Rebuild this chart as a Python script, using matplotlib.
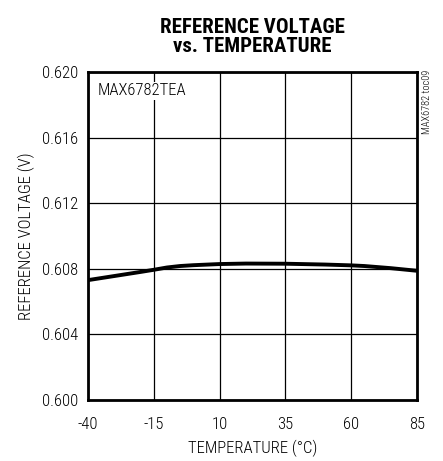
import matplotlib
matplotlib.use("Agg")
import matplotlib.pyplot as plt
from matplotlib import font_manager

temps = [-40, -30, -20, -15, -10, -5, 0, 10, 20, 35, 50, 60, 65, 75, 85]
vref = [0.60731, 0.60756, 0.60781, 0.60794, 0.60808, 0.60817, 0.60822, 0.60829,
        0.60832, 0.60831, 0.60826, 0.60821, 0.60817, 0.60804, 0.60788]
xticks = [-40, -15, 10, 35, 60, 85]
yticks = [0.600, 0.604, 0.608, 0.612, 0.616, 0.620]

names = {f.name for f in font_manager.fontManager.ttflist}
def pick(cands):
    for c in cands:
        if c in names:
            return c
    return 'DejaVu Sans'

body = pick(['Nimbus Sans Narrow', 'Liberation Sans Narrow', 'Arial Narrow', 'Roboto Condensed',
             'Archivo Narrow', 'Barlow Semi Condensed', 'Asap Condensed'])
head = pick(['Nimbus Sans Narrow', 'Roboto Condensed', 'Archivo Narrow', 'Barlow Condensed',
             'Asap Condensed', 'Liberation Sans Narrow'])
plt.rcParams['font.family'] = [body, 'DejaVu Sans']
plt.rcParams['font.weight'] = 'light'
plt.rcParams['axes.labelweight'] = 'light'

fig = plt.figure(figsize=(4.43, 4.61), dpi=100)
ax = fig.add_axes([0.1986, 0.1323, 0.7427, 0.7115])
ax.plot(temps, vref, color='black', lw=2.8, solid_capstyle='butt', zorder=3)
ax.set_xlim(-40, 85)
ax.set_ylim(0.600, 0.620)
ax.set_xticks(xticks)
ax.set_xticklabels([str(t) for t in xticks])
ax.set_yticks(yticks)
ax.set_yticklabels([f"{v:.3f}" for v in yticks])
ax.grid(True, color='black', lw=0.9)
ax.tick_params(length=0, labelsize=12)
ax.tick_params(axis='x', pad=12)
ax.tick_params(axis='y', pad=7)
for s in ax.spines.values():
    s.set_linewidth(2.0)
ax.set_xlabel('TEMPERATURE (°C)', fontsize=12, labelpad=6, fontweight='light')
ax.set_ylabel('REFERENCE VOLTAGE (V)', fontsize=12, labelpad=5, fontweight='light')
fig.text(0.5695, 0.962, 'REFERENCE VOLTAGE\nvs. TEMPERATURE', ha='center', va='top',
         fontsize=15, fontweight='heavy', linespacing=1.05, family=[head, 'DejaVu Sans'])
ax.text(0.03, 0.965, 'MAX6782TEA', transform=ax.transAxes, ha='left', va='top', fontsize=12,
        bbox=dict(facecolor='white', edgecolor='none', pad=1.0), zorder=4)
fig.text(0.952, 0.848, 'MAX6782 toc09', rotation=90, ha='left', va='top', fontsize=7.5)
fig.savefig('out.png', dpi=100)
